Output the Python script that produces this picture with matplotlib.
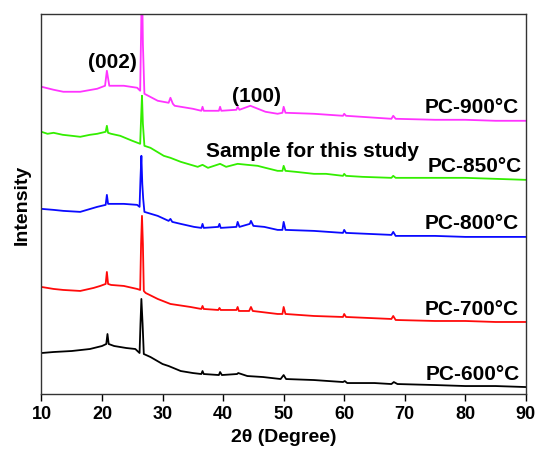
import matplotlib
matplotlib.use('Agg')
import matplotlib.pyplot as plt
import numpy as np

plt.rcParams['font.family'] = ['Liberation Sans', 'DejaVu Sans']
plt.rcParams['font.weight'] = 'bold'

# 2theta / intensity (a.u., already stacked)
tt_600 = [10, 12, 15, 18, 20, 20.7, 20.9, 21.1, 22, 24, 25.5, 26.2, 26.35, 26.5, 26.7, 26.9,
          28, 30, 31, 33, 35, 36.4, 36.6, 36.8, 39.3, 39.5, 39.8, 42.3, 42.5, 44, 46.6, 49.5,
          50, 50.4, 55, 59.8, 60.1, 60.5, 65, 67.8, 68.2, 68.8, 75, 80, 85, 90]
i_600 = [41, 42, 43, 45, 48, 50, 60, 50, 48, 46, 45, 41, 70, 95, 70, 40,
         37, 30, 28, 23, 21, 20, 23, 20, 19, 22, 19, 20, 21, 18, 17, 15,
         19, 15, 14, 12, 13, 11, 11, 10, 12, 10, 9, 8, 8, 7]

tt_700 = [10, 12, 13.6, 16.4, 18.6, 19.7, 20.6, 20.8, 21.0, 21.5, 23.6, 25.8, 26.3, 26.45,
          26.6, 26.75, 26.9, 27.2, 29.2, 31.3, 34.6, 36.4, 36.6, 36.8, 39.2, 39.4, 39.6,
          42.2, 42.4, 42.6, 44.3, 44.6, 44.9, 49, 49.8, 50, 50.3, 55, 59.8, 60, 60.3,
          67.8, 68.1, 68.5, 75, 80, 85, 90]
i_700 = [107, 105, 104, 103, 106, 108, 110, 122, 110, 109, 108, 105, 104, 150,
         178, 150, 103, 101, 95, 90, 87, 85, 88, 85, 84, 86, 84,
         84, 87, 83, 83, 87, 83, 80, 80, 87, 80, 78, 77, 80, 77,
         75, 78, 74, 73, 73, 72, 72]

tt_800 = [10, 12, 13.6, 16.4, 19.2, 20.6, 20.8, 21.0, 21.6, 23.6, 25.8, 26.2, 26.35, 26.5,
          26.65, 26.8, 27.0, 29.2, 31.0, 31.3, 31.6, 33, 35.2, 36.4, 36.6, 36.8, 39.2, 39.4,
          39.6, 42.2, 42.4, 42.7, 44.4, 44.6, 45.0, 46.8, 49, 49.8, 50, 50.3, 55, 59.8, 60,
          60.3, 67.8, 68.1, 68.5, 75, 80, 85, 90]
i_800 = [185, 184, 183, 182, 187, 189, 199, 190, 190, 190, 189, 187, 215, 238,
         210, 195, 182, 178, 173, 175, 172, 170, 167, 166, 170, 166, 167, 170,
         166, 167, 172, 167, 170, 173, 168, 167, 164, 164, 172, 164, 163, 161, 164,
         161, 159, 162, 158, 158, 157, 157, 157]

tt_850 = [10, 11, 12, 13.5, 15, 16.4, 18, 19.2, 20.6, 20.8, 21.0, 21.5, 23, 25, 26.3, 26.45,
          26.6, 26.75, 27.0, 28, 30.2, 31.3, 33, 35.8, 36.6, 37.5, 39.5, 40.5, 42.4, 44,
          45.7, 47, 49, 49.8, 50, 50.3, 52, 55, 57, 59.8, 60, 60.3, 63, 67.8, 68.1, 68.5,
          72, 76, 80, 85, 90]
i_850 = [262, 260, 261, 259, 258, 257, 259, 260, 262, 268, 261, 260, 258, 253, 250, 275,
         298, 270, 248, 246, 238, 236, 232, 227, 229, 226, 230, 227, 230, 229,
         228, 226, 223, 223, 228, 223, 222, 220, 220, 218, 220, 218, 217, 216, 218, 216,
         216, 216, 216, 215, 214]

tt_900 = [10, 12, 13.6, 16.4, 19.2, 20.5, 20.8, 21.2, 23.6, 25.8, 26.3, 26.45, 26.6, 26.75,
          27.0, 29.2, 31.0, 31.3, 31.7, 32, 35, 36.4, 36.6, 36.8, 39.3, 39.5, 39.7, 42.2,
          42.4, 42.7, 44.5, 47, 49, 49.8, 50, 50.3, 55, 59.8, 60, 60.3, 67.8, 68.1, 68.5,
          75, 80, 85, 90]
i_900 = [307, 304, 302, 302, 305, 308, 323, 308, 308, 306, 303, 360,
         420, 350, 300, 293, 291, 296, 290, 288, 285, 283, 287, 283, 283, 287, 283, 284,
         287, 284, 288, 282, 280, 281, 287, 281, 280, 278, 280, 278, 275, 278, 275,
         274, 274, 273, 273]

series = [
    (tt_600, i_600, 'black'),
    (tt_700, i_700, '#ff0a0a'),
    (tt_800, i_800, '#0a0aff'),
    (tt_850, i_850, '#33ee00'),
    (tt_900, i_900, '#ff33ff'),
]

labels = ['PC-600°C', 'PC-700°C', 'PC-800°C', 'PC-850°C', 'PC-900°C']
label_x = [89.1, 88.8, 88.8, 89.3, 88.8]
label_y = [15, 80, 166, 223, 282]

fig = plt.figure(figsize=(5.36, 4.52), dpi=100)
ax = fig.add_axes([0.0774, 0.126, 0.9036, 0.8415])

for x, y, c in series:
    ax.plot(x, y, color=c, lw=1.3)

for lab, lx, ly in zip(labels, label_x, label_y):
    ax.text(lx, ly, lab, ha='right', va='baseline', fontsize=15, fontweight='bold')

ax.text(37.2, 238, 'Sample for this study', ha='left', va='baseline', fontsize=15, fontweight='bold')
ax.text(21.8, 327, '(002)', ha='center', va='baseline', fontsize=15, fontweight='bold')
ax.text(45.5, 293, '(100)', ha='center', va='baseline', fontsize=15, fontweight='bold')

ax.set_xlim(10, 90)
ax.set_ylim(0, 380)
ax.set_xticks([10, 20, 30, 40, 50, 60, 70, 80, 90])
ax.set_yticks([])
ax.tick_params(axis='x', direction='out', length=5, width=1, labelsize=13, pad=3)
for s in ax.spines.values():
    s.set_linewidth(1.0)
    s.set_color('#333333')

ax.set_xlabel('2θ (Degree)', fontsize=14, fontweight='bold', labelpad=4)
ax.set_ylabel('Intensity', fontsize=14, fontweight='bold', labelpad=8)

fig.savefig('out.png', dpi=100)
